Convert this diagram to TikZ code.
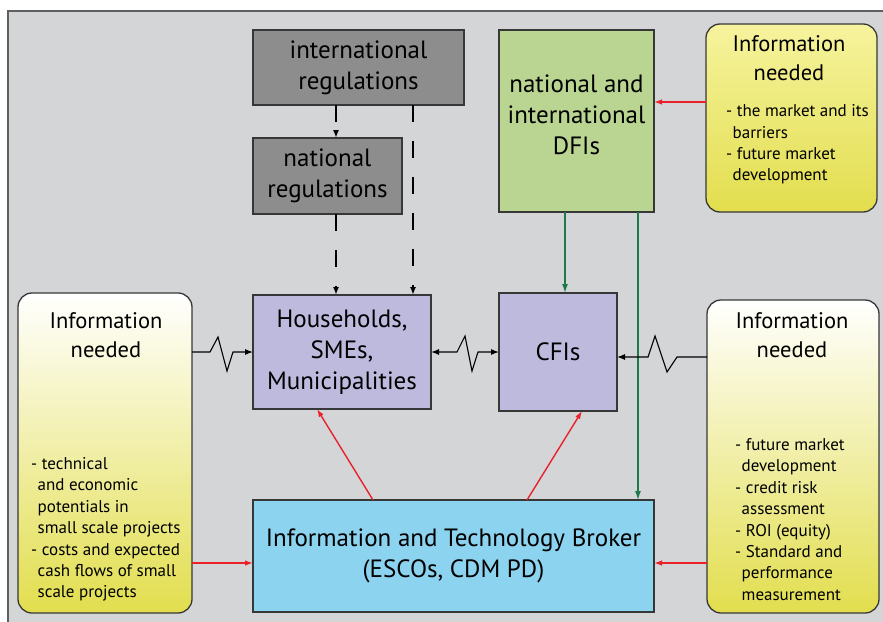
\documentclass[tikz,border=0pt]{standalone}
\usepackage{fontspec}
\setmainfont{PT Sans}
\usetikzlibrary{arrows.meta,calc}
\definecolor{bgc}{RGB}{212,213,215}
\definecolor{bordc}{RGB}{55,55,55}
\definecolor{dgray}{RGB}{141,141,141}
\definecolor{lav}{RGB}{190,186,222}
\definecolor{lgreen}{RGB}{186,213,146}
\definecolor{lblue}{RGB}{140,211,239}
\definecolor{yelb}{RGB}{226,222,78}
\definecolor{yelm}{RGB}{246,244,200}
\definecolor{yelt}{RGB}{246,243,158}
\definecolor{redc}{RGB}{234,32,42}
\definecolor{greenc}{RGB}{30,122,72}
\newcommand{\contind}{\hspace{6.5pt}}
\tikzset{
  box/.style={draw=bordc, line width=1.3pt, anchor=north west, inner sep=0pt, outer sep=0pt,
    align=center, font=\fontsize{25}{31}\selectfont},
  infobox/.style={draw=bordc, line width=1.3pt, anchor=north west, inner sep=0pt, outer sep=0pt,
    rounded corners=14pt},
  titletext/.style={align=center, inner sep=0pt, font=\fontsize{22.5}{29.5}\selectfont},
  itemtext/.style={align=left, inner sep=0pt, anchor=west, font=\fontsize{17}{21.4}\selectfont},
  blackarr/.style={line width=1.1pt, -{Latex[length=8pt,width=6pt]}},
  dasharr/.style={line width=1.8pt, dash pattern=on 17pt off 19pt, -{Latex[length=8pt,width=6pt]}},
  redarr/.style={draw=redc, line width=1.4pt, -{Latex[length=8pt,width=5.5pt]}},
  greenarr/.style={draw=greenc, line width=1.4pt, -{Latex[length=9pt,width=6pt]}},
}
\begin{document}
\begin{tikzpicture}[x=1pt,y=-1pt]
\useasboundingbox (0,0) rectangle (883,621);
\fill[white] (0,0) rectangle (883,621);
\draw[draw=bordc!80, line width=1.3pt, fill=bgc] (8,11) rectangle (900,640);

% rectangles
\node[box, fill=dgray, minimum width=211pt, minimum height=75pt] (ir) at (253,30) {international\\regulations};
\node[box, fill=dgray, minimum width=149pt, minimum height=76pt] (nr) at (253,138) {national\\regulations};
\node[box, fill=lav, minimum width=178pt, minimum height=114pt] (hh) at (253,295) {Households,\\SMEs,\\Municipalities};
\node[box, fill=lav, minimum width=118pt, minimum height=118pt] (cfi) at (499,293) {CFIs};
\node[box, fill=lgreen, minimum width=155pt, minimum height=182pt] (dfi) at (499,30) {};
\node[align=center, inner sep=0pt, font=\fontsize{25}{31}\selectfont] (dfit) at (576.5,115) {national and\\international\\DFIs};
\node[box, fill=lblue, minimum width=401pt, minimum height=112pt] (broker) at (253,500) {Information and Technology Broker\\(ESCOs, CDM PD)};

% info boxes
\node[infobox, top color=yelt, bottom color=yelb, minimum width=171pt, minimum height=188pt] (tri) at (706,24) {};
\node[infobox, top color=white, middle color=yelm, bottom color=yelb, minimum width=174pt, minimum height=320pt] (li) at (18,293) {};
\node[infobox, top color=white, middle color=yelm, bottom color=yelb, minimum width=172pt, minimum height=313pt] (ri) at (707,300) {};

\node[titletext] (trit) at (789,58) {Information\\needed};
\node[titletext] (lit) at (106,335) {Information\\needed};
\node[titletext] (rit) at (792,335) {Information\\needed};

\node[itemtext] (trii) at (726,144.5) {- the market and its\\\contind barriers\\- future market\\\contind development};
\node[itemtext] (lii) at (31,529.5) {- technical\\\contind and economic\\\contind potentials in\\\contind small scale projects\\- costs and expected\\\contind cash flows of small\\\contind scale projects};
\node[itemtext] (rii) at (735,519.5) {- future market\\\contind development\\- credit risk\\\contind assessment\\- ROI (equity)\\- Standard and\\\contind performance\\\contind measurement};

% dashed regulation arrows
\coordinate (d1) at ($(ir.south west)+(83,0)$);
\coordinate (d2) at ($(nr.south west)+(83,0)$);
\coordinate (d3) at ($(ir.south west)+(160,0)$);
\draw[dasharr] (d1) -- (nr.north -| d1);
\draw[dasharr] (d2) -- (hh.north -| d2);
\draw[dasharr] (d3) -- (hh.north -| d3);

% green arrows
\coordinate (g1) at ($(dfi.south west)+(66,0)$);
\coordinate (g2) at ($(dfi.south west)+(139,0)$);
\draw[greenarr] (g1) -- (cfi.north -| g1);
\draw[greenarr] (g2) -- (broker.north -| g2);

% red arrows
\coordinate (r1) at ($(dfi.east)+(0,-19)$);
\draw[redarr] (tri.west |- r1) -- (r1);
\coordinate (r2) at ($(broker.west)+(0,7)$);
\draw[redarr] (li.east |- r2) -- (r2);
\coordinate (r3) at ($(broker.east)+(0,7)$);
\draw[redarr] (ri.west |- r3) -- (r3);
\draw[redarr] ($(broker.north west)+(120,0)$) -- ($(hh.south west)+(64,0)$);
\draw[redarr] ($(broker.north west)+(274,0)$) -- ($(cfi.south west)+(83,0)$);

% zigzag arrows
\draw[blackarr] (li.east |- hh.west) -- ++(18,0) -- ++(8,-15) -- ++(9,34) -- ++(6,-19) -- (hh.west);
\draw[line width=1.1pt, {Latex[length=8pt,width=6pt]}-{Latex[length=8pt,width=6pt]}] (hh.east) -- ++(26,0) -- ++(8,-16) -- ++(7,35) -- ++(6,-19) -- (cfi.west |- hh.east);
\coordinate (z3) at ($(cfi.east)+(0,5)$);
\draw[blackarr] (ri.west |- z3) -- ++(-30,0) -- ++(-10,15) -- ++(-12,-36) -- ++(-7,21) -- (z3);
\end{tikzpicture}
\end{document}
